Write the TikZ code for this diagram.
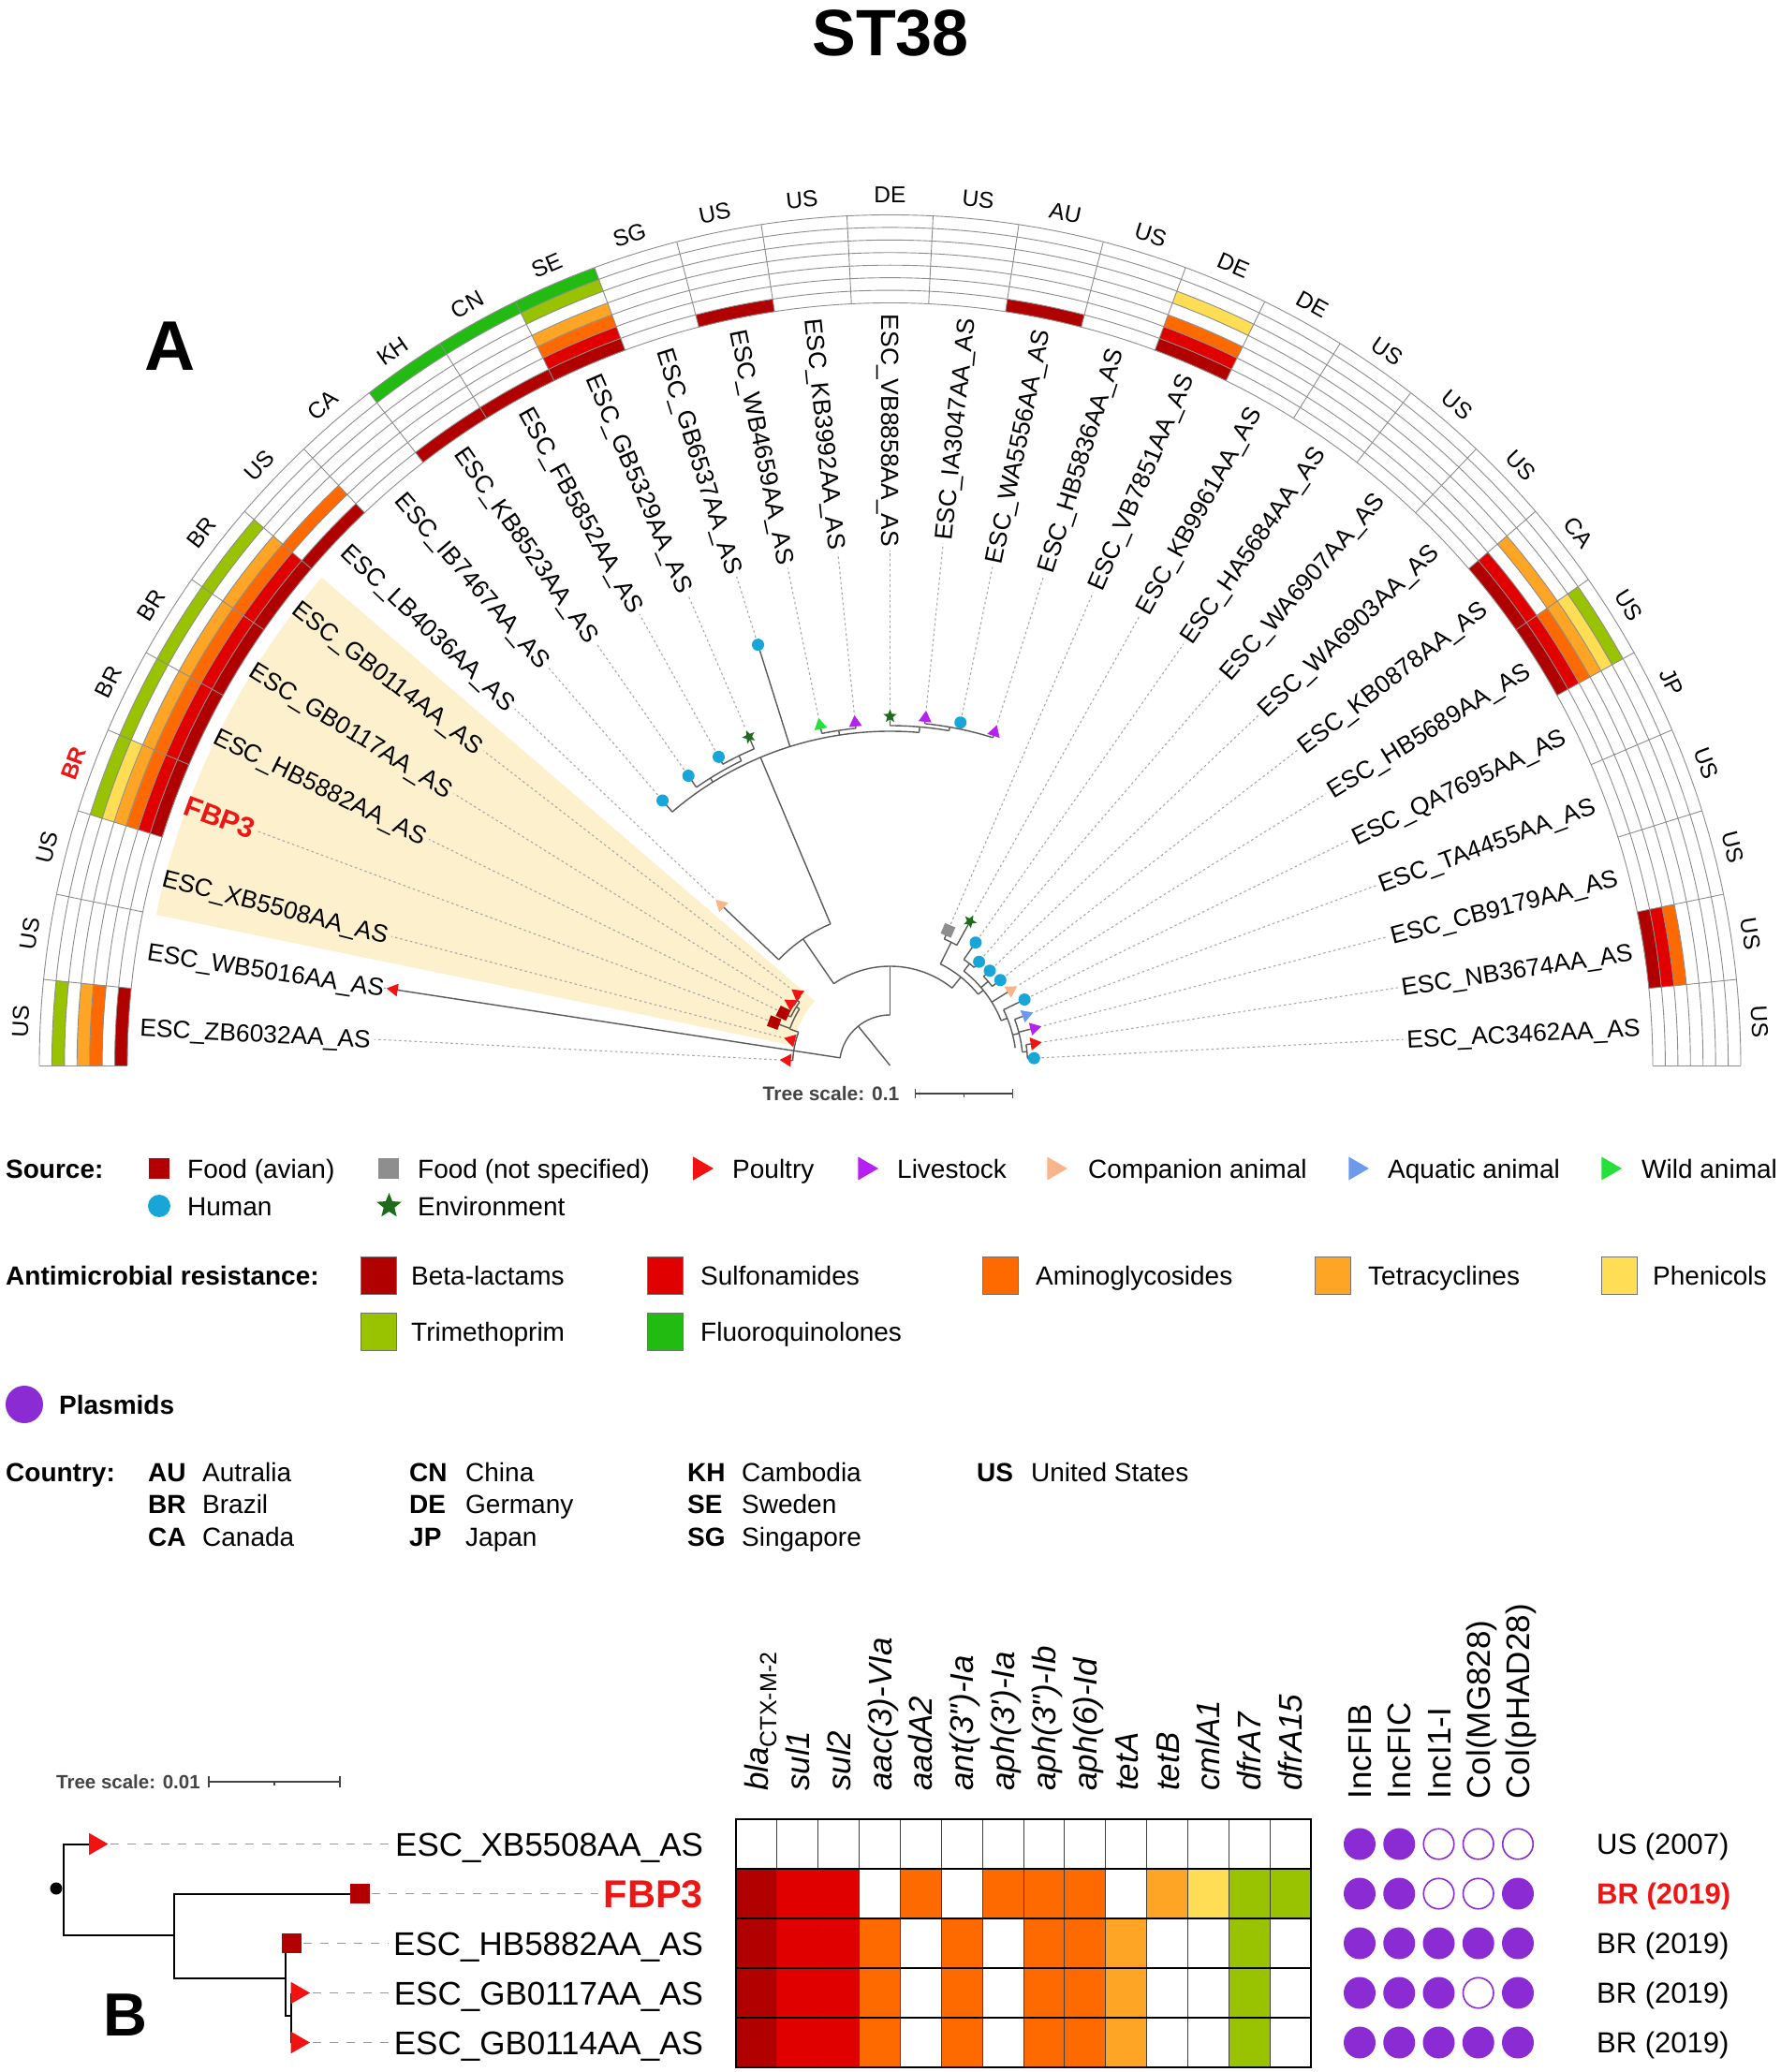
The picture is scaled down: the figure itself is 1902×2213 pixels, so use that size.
\documentclass[tikz,border=0pt]{standalone}
\usepackage{fontspec}
\setmainfont{Liberation Sans}
\newfontfamily\af{Liberation Sans}
\usetikzlibrary{shapes.geometric}
\newcommand\myfs[1]{\fontsize{#1}{#1}\selectfont}
\definecolor{cb1}{HTML}{B00000}
\definecolor{cb2}{HTML}{E00000}
\definecolor{cb3}{HTML}{FF6A00}
\definecolor{cb4}{HTML}{FFA526}
\definecolor{cb5}{HTML}{FFDD55}
\definecolor{cb6}{HTML}{99C200}
\definecolor{cb7}{HTML}{22BB11}
\definecolor{hl}{HTML}{FCF0CD}
\definecolor{chum}{HTML}{18A6D8}
\definecolor{cenv}{HTML}{1E6B1E}
\definecolor{cpou}{HTML}{F21212}
\definecolor{cliv}{HTML}{B620F0}
\definecolor{ccom}{HTML}{FAB48A}
\definecolor{caqu}{HTML}{6C9BEE}
\definecolor{cwil}{HTML}{26E03A}
\definecolor{cfav}{HTML}{B20000}
\definecolor{cfns}{HTML}{8E8E8E}
\definecolor{cpla}{HTML}{8B2BD3}
\definecolor{cred}{HTML}{EE1515}
\definecolor{cbr}{HTML}{5A5A5A}
\definecolor{cscale}{HTML}{444444}
\newcommand\TRad[3]{\draw[br] (#1:#2pt) -- (#1:#3pt);}
\newcommand\TArc[3]{\draw[br] (#2:#1pt) arc[start angle=#2, end angle=#3, radius=#1pt];}
\tikzset{
  lab/.style={font=\af\myfs{26.4}, inner sep=0pt, outer sep=4pt, text height=18.9pt, text depth=0pt},
  ctry/.style={font=\af\myfs{24.5}, inner sep=0pt, text height=17.5pt, text depth=0pt},
  br/.style={draw=cbr, line width=1.4pt},
  leader/.style={draw=black!35, line width=1.1pt, dash pattern=on 2.5pt off 3pt},
  cellline/.style={draw=black!45, line width=0.9pt},
  mk/.style={inner sep=0pt, outer sep=1.5pt},
  tri/.style={mk, regular polygon, regular polygon sides=3, minimum size=16pt},
  sqr/.style={mk, rectangle, minimum size=12pt},
  mkH/.style={mk, circle, fill=chum, minimum size=13pt},
  mkE/.style={mk, star, star points=5, star point ratio=2.3, fill=cenv, minimum size=15pt},
  mkP/.style={tri, fill=cpou},
  mkL/.style={tri, fill=cliv},
  mkC/.style={tri, fill=ccom},
  mkA/.style={tri, fill=caqu},
  mkW/.style={tri, fill=cwil},
  mkF/.style={sqr, fill=cfav},
  mkG/.style={sqr, fill=cfns},
  legT/.style={font=\af\myfs{28}, inner sep=0pt, anchor=west, text height=20pt, text depth=0pt},
  legB/.style={font=\af\bfseries\myfs{28}, inner sep=0pt, anchor=west, text height=20pt, text depth=0pt},
  amrbox/.style={rectangle, minimum width=38pt, minimum height=40pt, draw=black!55, line width=1pt, inner sep=0pt},
  blab/.style={font=\af\myfs{35}, inner sep=0pt, outer sep=6pt, anchor=east, text height=25.1pt, text depth=0pt},
  bbr/.style={draw=black, line width=2pt},
  bdash/.style={draw=black!40, line width=1.5pt, dash pattern=on 9pt off 9pt},
  ghead/.style={font=\af\itshape\myfs{35}, inner sep=0pt, rotate=90, anchor=west, text height=25.1pt, text depth=0pt},
  phead/.style={font=\af\myfs{35}, inner sep=0pt, rotate=90, anchor=west, text height=25.1pt, text depth=0pt},
  plf/.style={circle, fill=cpla, minimum size=34pt, inner sep=0pt},
  plo/.style={circle, draw=cpla, line width=1.6pt, fill=white, minimum size=32.5pt, inner sep=0pt},
  rlab/.style={font=\af\myfs{31}, inner sep=0pt, anchor=west, text height=22.2pt, text depth=0pt},
  tsc/.style={font=\af\bfseries\myfs{21}, text=cscale, inner sep=0pt, text height=15pt, text depth=0pt},
}
\newcommand\PlRow[2]{\foreach \v [count=\j] in {#2} {\pgfmathsetmacro\px{501.5+(\j-1)*42.25}\pgfmathsetmacro\py{-831.5-(#1-1)*53}\ifnum\v=1 \node[plf] (p#1\j) at (\px,\py) {};\else \node[plo] (p#1\j) at (\px,\py) {};\fi}}
\begin{document}
\begin{tikzpicture}[x=1pt,y=1pt]
\fill[white] (-950.5,-1075) rectangle (951.5,1138);
\useasboundingbox (-950.5,-1075) rectangle (951.5,1138);
\node[font=\af\bfseries\myfs{70}] (title) at (0.5,1103) {ST38};
\node[font=\af\bfseries\myfs{75}] (pA) at (-768.5,768) {A};
% clade highlight
\fill[hl] (139.35:106pt) arc[start angle=139.35, end angle=168.39, radius=106pt] -- (168.39:800pt) arc[start angle=168.39, end angle=139.35, radius=800pt] -- cycle;
% tree
\TRad{129}{0}{54}
\TArc{54}{171.29}{90}
\TRad{171.29}{54}{536}
\TArc{104}{177.1}{160}
\TRad{177.1}{104}{110}
\TRad{165.48}{104}{109}
\TRad{160}{104}{114}
\TArc{114}{159.68}{148}
\TRad{159.68}{114}{132}
\TRad{148}{114}{118}
\TArc{118}{153.87}{145}
\TRad{153.87}{118}{127}
\TRad{145}{118}{121}
\TArc{121}{148.06}{142.26}
\TRad{148.06}{121}{125}
\TRad{142.26}{121}{125}
\TRad{90}{54}{106}
\TArc{106}{124.5}{51.3}
\TRad{124.5}{106}{164}
\TArc{164}{136.45}{112.8}
\TRad{136.45}{164}{249}
\TRad{112.8}{164}{357}
\TArc{357}{130.65}{85}
\TRad{130.65}{357}{373}
\TRad{122}{357}{362}
\TArc{362}{124.84}{116}
\TRad{124.84}{362}{377}
\TRad{116}{362}{368}
\TArc{368}{119.03}{113.23}
\TRad{119.03}{368}{377}
\TRad{113.23}{368}{382}
\TRad{107.42}{357}{471}
\TRad{98.7}{357}{362}
\TArc{362}{101.61}{95.81}
\TRad{101.61}{362}{371}
\TRad{95.81}{362}{368}
\TRad{85}{357}{363}
\TArc{363}{90}{80}
\TRad{90}{363}{373}
\TRad{80}{363}{367}
\TArc{367}{84.19}{72.58}
\TRad{84.19}{367}{373}
\TRad{78.39}{367}{374}
\TRad{72.58}{367}{373}
\TRad{51.3}{106}{121}
\TArc{121}{63.6}{38.9}
\TRad{63.6}{121}{147}
\TArc{147}{66.77}{60.97}
\TRad{66.77}{147}{157}
\TRad{60.97}{147}{176}
\TRad{38.9}{121}{128}
\TArc{128}{52}{22}
\TRad{52}{128}{138}
\TArc{138}{55.16}{49.35}
\TRad{55.16}{138}{160}
\TRad{49.35}{138}{146}
\TRad{40.6}{128}{138}
\TArc{138}{43.55}{37.74}
\TRad{43.55}{138}{147}
\TRad{37.74}{138}{149}
\TRad{31.94}{128}{152}
\TRad{22}{128}{135}
\TArc{135}{26.13}{8}
\TRad{26.13}{135}{160}
\TRad{14}{135}{142}
\TArc{142}{20.32}{5.8}
\TRad{20.32}{142}{155}
\TRad{14.52}{142}{159}
\TRad{5.8}{142}{147}
\TArc{147}{8.71}{2.9}
\TRad{8.71}{147}{156}
\TRad{2.9}{147}{154}
% ring colours
\foreach \i/\k in {1/1,1/3,1/4,1/6, 4/1,4/2,4/3,4/4,4/5,4/6, 5/1,5/2,5/3,5/4,5/6, 6/1,6/2,6/3,6/4,6/6, 7/1,7/2,7/3,7/4,7/6, 8/1,8/3, 10/1,10/7, 11/1,11/7, 12/1,12/2,12/3,12/4,12/6,12/7, 14/1, 18/1, 20/1,20/2,20/3,20/5, 25/1,25/2,25/4, 26/1,26/2,26/3,26/4,26/5,26/6, 30/1,30/2,30/3}{
  \pgfmathsetmacro\angA{180-(\i-1)*180/31}
  \pgfmathsetmacro\angB{180-\i*180/31}
  \pgfmathsetmacro\radA{814.5+(\k-1)*13.43}
  \pgfmathsetmacro\radB{814.5+\k*13.43}
  \path[fill=cb\k] (\angA:\radA pt) arc[start angle=\angA, end angle=\angB, radius=\radA pt] -- (\angB:\radB pt) arc[start angle=\angB, end angle=\angA, radius=\radB pt] -- cycle;
}
\foreach \k in {0,...,7}{
  \pgfmathsetmacro\radA{814.5+\k*13.43}
  \draw[cellline] (180:\radA pt) arc[start angle=180, end angle=0, radius=\radA pt];
}
\foreach \i in {0,...,31}{
  \pgfmathsetmacro\angA{180-\i*180/31}
  \draw[cellline] (\angA:814.5pt) -- (\angA:908.5pt);
}
% country labels
\foreach \i/\ctext in {1/US,2/US,3/US,5/BR,6/BR,7/BR,8/US,9/CA,10/KH,11/CN,12/SE,13/SG,14/US,15/US,16/DE,17/US,18/AU,19/US,20/DE,21/DE,22/US,23/US,24/US,25/CA,26/US,27/JP,28/US,29/US,30/US,31/US}{
  \pgfmathsetmacro\th{180-(\i-0.5)*180/31}
  \node[ctry, rotate=\th-90] (c\i) at (\th:930pt) {\ctext};
}
\node[ctry, font=\af\bfseries\myfs{24.5}, text=cred, rotate=69.677] (c4) at (159.677:930pt) {BR};
% leaf markers
\foreach \i/\ty/\rr in {1/P/110, 2/P/536, 3/P/109, 4/F/132, 5/F/127, 6/P/125, 7/P/125, 8/C/249, 9/H/373, 10/H/377, 11/H/377, 12/E/382, 13/H/471, 14/W/371, 15/L/368, 16/E/373, 17/L/373, 18/H/374, 19/L/373, 20/G/157, 21/E/176, 22/H/160, 23/H/146, 24/H/147, 25/H/149, 26/C/152, 27/H/160, 28/A/155, 29/L/159, 30/P/156, 31/H/154}{
  \pgfmathsetmacro\th{180-(\i-0.5)*180/31}
  \node[mk\ty, rotate=\th-90] (m\i) at (\th:\rr pt) {};
}
% leaf labels
\foreach \i/\nm in {1/ZB6032,2/WB5016,3/XB5508,5/HB5882,6/GB0117,7/GB0114,8/LB4036,9/IB7467,10/KB8523,11/FB5852,12/GB5329,13/GB6537,14/WB4659,15/KB3992,16/VB8858,17/IA3047,18/WA5556,19/HB5836,20/VB7851,21/KB9961,22/HA5684,23/WA6907,24/WA6903,25/KB0878,26/HB5689,27/QA7695,28/TA4455,29/CB9179,30/NB3674,31/AC3462}{
  \pgfmathsetmacro\th{180-(\i-0.5)*180/31}
  \ifdim\th pt<90pt
    \node[lab, rotate=\th, anchor=east] (l\i) at (\th:806pt) {ESC\_\nm AA\_AS};
    \draw[leader] (m\i) -- (l\i.west);
  \else
    \node[lab, rotate=\th-180, anchor=west] (l\i) at (\th:806pt) {ESC\_\nm AA\_AS};
    \draw[leader] (m\i) -- (l\i.east);
  \fi
}
\node[lab, font=\af\bfseries\myfs{30.5}, text height=21.8pt, text=cred, rotate=-20.323, anchor=west] (l4) at (159.677:806pt) {FBP3};
\draw[leader] (m4) -- (l4.east);
% tree scale A
\node[tsc, anchor=east] (tsA) at (10,-30) {Tree scale: 0.1};
\coordinate (tsA1) at (27.2,-30);
\coordinate (tsA2) at (131.2,-30);
\draw[cscale, line width=1.5pt] (tsA1) -- (tsA2);
\draw[cscale, line width=1.5pt] ([yshift=5pt]tsA1) -- ([yshift=-5pt]tsA1);
\draw[cscale, line width=1.5pt] ([yshift=5pt]tsA2) -- ([yshift=-5pt]tsA2);
\draw[cscale, line width=1.2pt] (79.2,-30) -- (79.2,-34);
% legend: source
\node[legB] (srcT) at (-944.5,-110) {Source:};
\node[sqr, fill=cfav, minimum size=22pt] (lgFA) at (-780.5,-110) {};
\node[legT] (lgFAt) at (-750.5,-110) {Food (avian)};
\node[sqr, fill=cfns, minimum size=22pt] (lgFN) at (-535,-110) {};
\node[legT] (lgFNt) at (-504.5,-110) {Food (not specified)};
\node[tri, fill=cpou, rotate=-90, minimum size=29pt] (lgP) at (-203,-110) {};
\node[legT] (lgPt) at (-168.5,-110) {Poultry};
\node[tri, fill=cliv, rotate=-90, minimum size=29pt] (lgL) at (-27,-110) {};
\node[legT] (lgLt) at (7.5,-110) {Livestock};
\node[tri, fill=ccom, rotate=-90, minimum size=29pt] (lgC) at (175,-110) {};
\node[legT] (lgCt) at (211.5,-110) {Companion animal};
\node[tri, fill=caqu, rotate=-90, minimum size=29pt] (lgA) at (497,-110) {};
\node[legT] (lgAt) at (531.5,-110) {Aquatic animal};
\node[tri, fill=cwil, rotate=-90, minimum size=29pt] (lgW) at (767,-110) {};
\node[legT] (lgWt) at (802.5,-110) {Wild animal};
\node[mk, circle, fill=chum, minimum size=24pt] (lgH) at (-780.5,-150) {};
\node[legT] (lgHt) at (-750.5,-150) {Human};
\node[mk, star, star points=5, star point ratio=2.3, fill=cenv, minimum size=28pt] (lgE) at (-535,-150) {};
\node[legT] (lgEt) at (-504.5,-150) {Environment};
% legend: AMR
\node[legB] (amrT) at (-944.5,-224) {Antimicrobial resistance:};
\node[amrbox, fill=cb1] (ab1) at (-545.5,-224) {};
\node[legT] (ab1t) at (-511.5,-224) {Beta-lactams};
\node[amrbox, fill=cb2] (ab2) at (-239.5,-224) {};
\node[legT] (ab2t) at (-202.5,-224) {Sulfonamides};
\node[amrbox, fill=cb3] (ab3) at (118,-224) {};
\node[legT] (ab3t) at (155.5,-224) {Aminoglycosides};
\node[amrbox, fill=cb4] (ab4) at (472.5,-224) {};
\node[legT] (ab4t) at (510.5,-224) {Tetracyclines};
\node[amrbox, fill=cb5] (ab5) at (779,-224) {};
\node[legT] (ab5t) at (814.5,-224) {Phenicols};
\node[amrbox, fill=cb6] (ab6) at (-545.5,-284) {};
\node[legT] (ab6t) at (-511.5,-284) {Trimethoprim};
\node[amrbox, fill=cb7] (ab7) at (-239.5,-284) {};
\node[legT] (ab7t) at (-202.5,-284) {Fluoroquinolones};
% legend: plasmids
\node[circle, fill=cpla, minimum size=40pt, inner sep=0pt] (plg) at (-924.5,-362) {};
\node[legB] (plgt) at (-887.5,-362) {Plasmids};
% legend: country
\node[legB] (ctT) at (-944.5,-434) {Country:};
\node[legB] (k1) at (-792.5,-434) {AU}; \node[legT] (n1) at (-734.5,-434) {Autralia};
\node[legB] (k2) at (-792.5,-468) {BR}; \node[legT] (n2) at (-734.5,-468) {Brazil};
\node[legB] (k3) at (-792.5,-503) {CA}; \node[legT] (n3) at (-734.5,-503) {Canada};
\node[legB] (k4) at (-513.5,-434) {CN}; \node[legT] (n4) at (-453.5,-434) {China};
\node[legB] (k5) at (-513.5,-468) {DE}; \node[legT] (n5) at (-453.5,-468) {Germany};
\node[legB] (k6) at (-513.5,-503) {JP}; \node[legT] (n6) at (-453.5,-503) {Japan};
\node[legB] (k7) at (-216.5,-434) {KH}; \node[legT] (n7) at (-158.5,-434) {Cambodia};
\node[legB] (k8) at (-216.5,-468) {SE}; \node[legT] (n8) at (-158.5,-468) {Sweden};
\node[legB] (k9) at (-216.5,-503) {SG}; \node[legT] (n9) at (-158.5,-503) {Singapore};
\node[legB] (k10) at (92.5,-434) {US}; \node[legT] (n10) at (150.5,-434) {United States};
% ===== panel B =====
\node[font=\af\bfseries\myfs{65}] (pB) at (-817,-1014) {B};
\node[tsc, font=\af\bfseries\myfs{20.5}, anchor=west] (tsB) at (-890.5,-765) {Tree scale: 0.01};
\coordinate (tsB1) at (-727.5,-765);
\coordinate (tsB2) at (-587.5,-765);
\draw[cscale, line width=1.5pt] (tsB1) -- (tsB2);
\draw[cscale, line width=1.5pt] ([yshift=6pt]tsB1) -- ([yshift=-6pt]tsB1);
\draw[cscale, line width=1.5pt] ([yshift=6pt]tsB2) -- ([yshift=-6pt]tsB2);
\draw[cscale, line width=1.2pt] (-657.5,-765) -- (-657.5,-769);
\draw[bbr] (-848.5,-831.5) -- (-882.5,-831.5) -- (-882.5,-929) -- (-764.5,-929);
\draw[bbr] (-565.5,-884.5) -- (-764.5,-884.5) -- (-764.5,-975) -- (-645.5,-975);
\draw[bbr] (-638.5,-937.5) -- (-645.5,-937.5) -- (-645.5,-1015) -- (-639,-1015);
\draw[bbr] (-639,-990.5) -- (-639,-1043.5);
\node[circle, fill=black, minimum size=13pt, inner sep=0pt] (broot) at (-890.5,-879) {};
\node[tri, fill=cpou, rotate=-90, minimum size=27pt] (bm1) at (-848.5,-831.5) {};
\node[sqr, fill=cfav, minimum size=21pt] (bm2) at (-565.5,-884.5) {};
\node[sqr, fill=cfav, minimum size=21pt] (bm3) at (-638.5,-937.5) {};
\node[tri, fill=cpou, rotate=-90, minimum size=27pt] (bm4) at (-633,-990.5) {};
\node[tri, fill=cpou, rotate=-90, minimum size=27pt] (bm5) at (-633,-1043.5) {};
\node[blab] (bl1) at (-193.5,-831.5) {ESC\_XB5508AA\_AS};
\node[blab, font=\af\bfseries\myfs{41.5}, text height=29.7pt, text=cred] (bl2) at (-193.5,-884.5) {FBP3};
\node[blab] (bl3) at (-193.5,-937.5) {ESC\_HB5882AA\_AS};
\node[blab] (bl4) at (-193.5,-990.5) {ESC\_GB0117AA\_AS};
\node[blab] (bl5) at (-193.5,-1043.5) {ESC\_GB0114AA\_AS};
\foreach \i in {1,...,5}{ \draw[bdash] (bm\i) -- (bl\i.west); }
% heatmap
\foreach \cv [count=\j] in {1,2,2,0,3,0,3,3,3,0,4,5,6,6}{
  \ifnum\cv>0 \fill[fill=cb\cv] ({-164.5+(\j-1)*43.857},-858) rectangle ++(43.857,-53); \fi
}
\foreach \rw in {3,4,5}{
  \foreach \cv [count=\j] in {1,2,2,3,0,3,0,3,3,4,0,0,6,0}{
    \ifnum\cv>0 \fill[fill=cb\cv] ({-164.5+(\j-1)*43.857},{-805-(\rw-1)*53}) rectangle ++(43.857,-53); \fi
  }
}
\foreach \j in {1,...,13}{ \draw[black!75, line width=1pt] ({-164.5+\j*43.857},-805) -- ++(0,-265); }
\foreach \rw in {1,...,4}{ \draw[black, line width=2pt] (-164.5,{-805-\rw*53}) -- (449.5,{-805-\rw*53}); }
\draw[black, line width=2.2pt] (-164.5,-805) rectangle (449.5,-1070);
% gene headers
\node[ghead] (g1) at (-142.57,-775) {bla\raisebox{-0.25em}{\upshape\myfs{25}CTX-M-2}};
\node[ghead] (g2) at (-98.71,-775) {sul1};
\node[ghead] (g3) at (-54.86,-775) {sul2};
\node[ghead] (g4) at (-11.0,-775) {aac(3)-VIa};
\node[ghead] (g5) at (32.86,-775) {aadA2};
\node[ghead] (g6) at (76.71,-775) {ant(3")-Ia};
\node[ghead] (g7) at (120.57,-775) {aph(3')-Ia};
\node[ghead] (g8) at (164.43,-775) {aph(3")-Ib};
\node[ghead] (g9) at (208.29,-775) {aph(6)-Id};
\node[ghead] (g10) at (252.14,-775) {tetA};
\node[ghead] (g11) at (296.0,-775) {tetB};
\node[ghead] (g12) at (339.86,-775) {cmlA1};
\node[ghead] (g13) at (383.71,-775) {dfrA7};
\node[ghead] (g14) at (427.57,-775) {dfrA15};
% plasmid headers
\node[phead] (h1) at (501.5,-783.5) {IncFIB};
\node[phead] (h2) at (543.75,-783.5) {IncFIC};
\node[phead] (h3) at (586,-783.5) {IncI1-I};
\node[phead] (h4) at (628.25,-783.5) {Col(MG828)};
\node[phead] (h5) at (670.5,-783.5) {Col(pHAD28)};
\PlRow{1}{1,1,0,0,0}
\PlRow{2}{1,1,0,0,1}
\PlRow{3}{1,1,1,1,1}
\PlRow{4}{1,1,1,0,1}
\PlRow{5}{1,1,1,1,1}
% right labels
\node[rlab] (r1) at (754.5,-831.5) {US (2007)};
\node[rlab, font=\af\bfseries\myfs{31}, text=cred] (r2) at (754.5,-884.5) {BR (2019)};
\node[rlab] (r3) at (754.5,-937.5) {BR (2019)};
\node[rlab] (r4) at (754.5,-990.5) {BR (2019)};
\node[rlab] (r5) at (754.5,-1043.5) {BR (2019)};
\end{tikzpicture}
\end{document}
